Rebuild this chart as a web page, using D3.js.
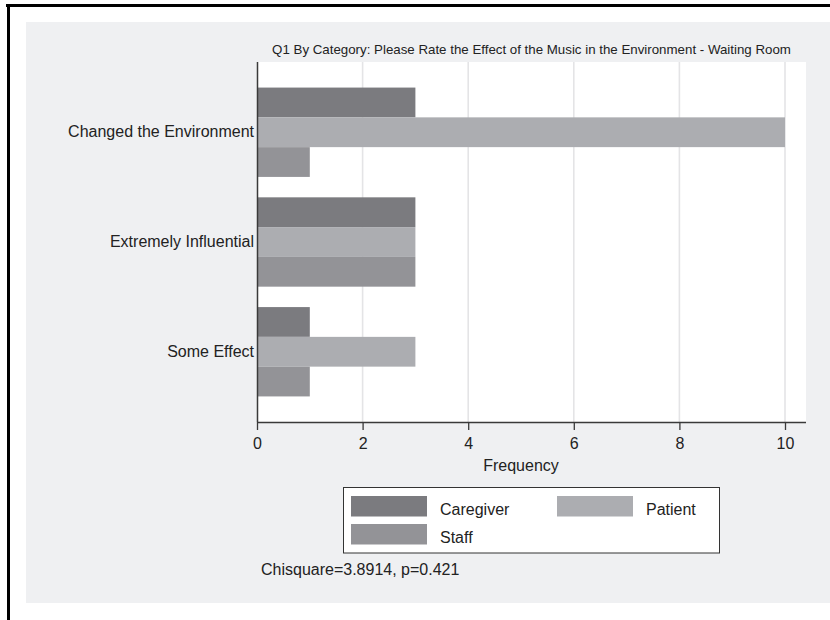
<!DOCTYPE html>
<html>
<head>
<meta charset="utf-8">
<script src="https://cdn.jsdelivr.net/npm/d3@7/dist/d3.min.js"></script>
<style>
  html, body { margin: 0; padding: 0; background: #ffffff; }
  svg { display: block; font-family: "Liberation Sans", Arial, sans-serif; }
</style>
</head>
<body>
<svg id="chart" width="830" height="620"></svg>
<script>
// ---- data ----
const categories = ["Changed the Environment", "Extremely Influential", "Some Effect"];
const seriesNames = ["Caregiver", "Patient", "Staff"];
const caregiverValues = [3, 3, 1];
const patientValues = [10, 3, 3];
const staffValues = [1, 3, 1];
const xTicks = [0, 2, 4, 6, 8, 10];
const titleText = "Q1 By Category: Please Rate the Effect of the Music in the Environment - Waiting Room";
const xLabel = "Frequency";
const noteText = "Chisquare=3.8914, p=0.421";
const seriesColors = ["#7b7b7f", "#acadb1", "#939397"];

const seriesValues = [caregiverValues, patientValues, staffValues];
const rows = categories.map((c, i) => ({
  category: c,
  values: seriesNames.map((s, j) => ({ series: s, value: seriesValues[j][i] }))
}));

const svg = d3.select("#chart");

// frame
svg.append("rect").attr("x", 26).attr("y", 22).attr("width", 804).attr("height", 581).attr("fill", "#eff0f2");
svg.append("line").attr("x1", 6).attr("x2", 830).attr("y1", 5.5).attr("y2", 5.5).attr("stroke", "#000").attr("stroke-width", 3);
svg.append("line").attr("x1", 8.5).attr("x2", 8.5).attr("y1", 4).attr("y2", 620).attr("stroke", "#000").attr("stroke-width", 3);

const plot = { left: 257, right: 806, top: 62, bottom: 422 };

const x = d3.scaleLinear().domain([0, 10]).range([257, 785]);
const y = d3.scaleBand().domain(categories).range([plot.top, plot.bottom]).paddingInner(0.186).paddingOuter(0.233);
const ySub = d3.scaleBand().domain(seriesNames).range([0, y.bandwidth()]);
const color = d3.scaleOrdinal().domain(seriesNames).range(seriesColors);

// plot background
svg.append("rect").attr("x", plot.left).attr("y", plot.top)
  .attr("width", plot.right - plot.left).attr("height", plot.bottom - plot.top).attr("fill", "#ffffff");

// grid
svg.append("g").selectAll("line").data(xTicks.filter(d => d > 0)).join("line")
  .attr("x1", d => x(d)).attr("x2", d => x(d))
  .attr("y1", plot.top).attr("y2", plot.bottom)
  .attr("stroke", "#e4e4e6").attr("stroke-width", 1.6);

// title
svg.append("text").attr("x", (plot.left + plot.right) / 2).attr("y", 54)
  .attr("text-anchor", "middle").attr("font-size", "13.3px").attr("fill", "#222")
  .text(titleText);

// bars
const groups = svg.append("g").selectAll("g").data(rows).join("g")
  .attr("transform", d => `translate(0,${y(d.category)})`);
groups.selectAll("rect").data(d => d.values).join("rect")
  .attr("x", x(0))
  .attr("y", d => ySub(d.series))
  .attr("width", d => x(d.value) - x(0))
  .attr("height", ySub.bandwidth())
  .attr("fill", d => color(d.series));

// x axis
const xAxis = svg.append("g").attr("transform", `translate(0,${plot.bottom})`)
  .call(d3.axisBottom(x).tickValues(xTicks).tickSize(8).tickPadding(8).tickFormat(d3.format("d")));
xAxis.select(".domain").attr("d", `M${plot.left},0.5H${plot.right}`).attr("stroke", "#3a3a3a").attr("stroke-width", 1.5);
xAxis.selectAll(".tick line").attr("stroke", "#3a3a3a").attr("stroke-width", 1.3);
xAxis.selectAll(".tick text").attr("font-size", "16px").attr("fill", "#222")
  .attr("font-family", "Liberation Sans, Arial, sans-serif");

// y axis
const yAxis = svg.append("g").attr("transform", `translate(${plot.left},0)`)
  .call(d3.axisLeft(y).tickSize(0).tickPadding(3));
yAxis.select(".domain").attr("d", `M0.5,${plot.top}V${plot.bottom}`).attr("stroke", "#3a3a3a").attr("stroke-width", 1.5);
yAxis.selectAll(".tick text").attr("font-size", "16px").attr("fill", "#222")
  .attr("font-family", "Liberation Sans, Arial, sans-serif");

// x label
svg.append("text").attr("x", (x(0) + x(10)) / 2).attr("y", 471)
  .attr("text-anchor", "middle").attr("font-size", "16px").attr("fill", "#222").text(xLabel);

// legend
const legend = svg.append("g");
legend.append("rect").attr("x", 343.5).attr("y", 487.5).attr("width", 376).attr("height", 65.5)
  .attr("fill", "#fff").attr("stroke", "#333").attr("stroke-width", 1);
const legPos = [
  { sx: 351, sy: 496, tx: 440, ty: 515 },
  { sx: 557, sy: 496, tx: 646, ty: 515 },
  { sx: 351, sy: 524, tx: 440, ty: 543 }
];
seriesNames.forEach((s, i) => {
  const p = legPos[i];
  legend.append("rect").attr("x", p.sx).attr("y", p.sy).attr("width", 76).attr("height", 20.5).attr("fill", color(s));
  legend.append("text").attr("x", p.tx).attr("y", p.ty).attr("font-size", "16px").attr("fill", "#222").text(s);
});

// note
svg.append("text").attr("x", 261).attr("y", 575).attr("font-size", "16px").attr("fill", "#222").text(noteText);
</script>
</body>
</html>
